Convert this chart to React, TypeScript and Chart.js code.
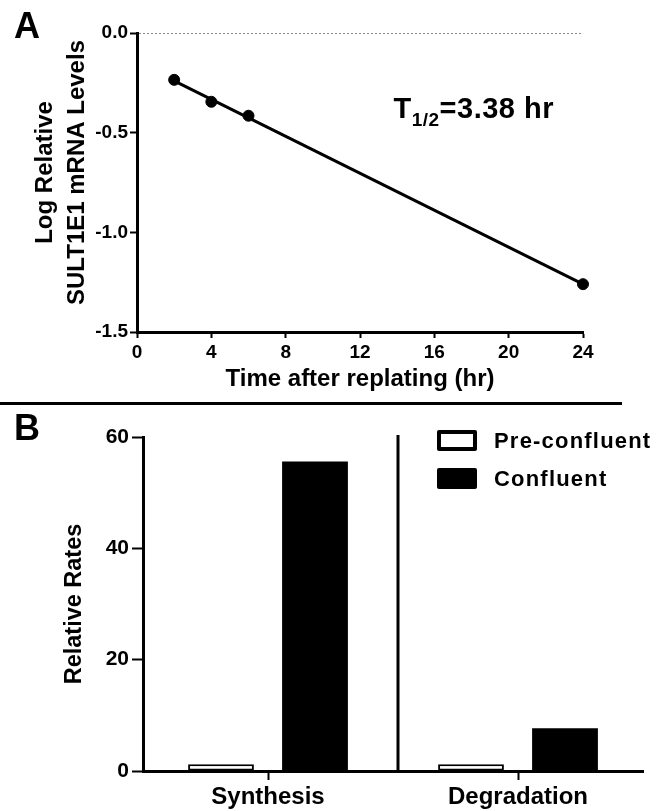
import React, { useEffect, useRef } from "react";
import { Chart, registerables } from "chart.js";
Chart.register(...registerables);

const FONT = "'Liberation Sans', Arial, Helvetica, sans-serif";

// ---------- Panel A data ----------
const timeHours = [2, 4, 6, 24];
const logRelativeLevels = [-0.235, -0.345, -0.415, -1.26];
const fitHours = [2, 24];
const fitLevels = [-0.24, -1.26];
const timeTicks = [0, 4, 8, 12, 16, 20, 24];
const levelTicks = [-1.5, -1.0, -0.5, 0.0];
const halfLifeMain = "T";
const halfLifeSub = "1/2";
const halfLifeRest = "=3.38 hr";
const halfLifePos = [13.8, -0.425];

// ---------- Panel B data ----------
const rateCategories = ["Synthesis", "Degradation"];
const preConfluentRates = [1.2, 1.2];
const confluentRates = [55.6, 7.7];
const rateTicks = [0, 20, 40, 60];

const halfLifePlugin = {
  id: "halfLife",
  afterDatasetsDraw(chart: any) {
    const { ctx, scales } = chart;
    const x = scales.x.getPixelForValue(halfLifePos[0]);
    const y = scales.y.getPixelForValue(halfLifePos[1]);
    ctx.save();
    ctx.fillStyle = "#000";
    ctx.textBaseline = "alphabetic";
    ctx.textAlign = "left";
    (ctx as any).letterSpacing = "0.5px";
    ctx.font = `bold 29px ${FONT}`;
    ctx.fillText(halfLifeMain, x, y);
    let cx = x + ctx.measureText(halfLifeMain).width;
    ctx.font = `bold 19px ${FONT}`;
    ctx.fillText(halfLifeSub, cx, y + 8);
    cx += ctx.measureText(halfLifeSub).width;
    ctx.font = `bold 29px ${FONT}`;
    ctx.fillText(halfLifeRest, cx, y);
    ctx.restore();
  },
};

const dividerPlugin = {
  id: "divider",
  afterDatasetsDraw(chart: any) {
    const { ctx, scales, chartArea } = chart;
    const xs = scales.x;
    const x = (xs.getPixelForValue(0) + xs.getPixelForValue(1)) / 2 + 5;
    ctx.save();
    ctx.strokeStyle = "#000";
    ctx.lineWidth = 3;
    ctx.beginPath();
    ctx.moveTo(x, chartArea.top - 2);
    ctx.lineTo(x, chartArea.bottom);
    ctx.stroke();
    ctx.restore();
  },
};

const legendPlugin = {
  id: "customLegend",
  afterDraw(chart: any) {
    const { ctx, chartArea } = chart;
    const ds = chart.data.datasets;
    const left = chartArea.left + 294;
    const top0 = chartArea.top - 7;
    ctx.save();
    ds.forEach((d: any, i: number) => {
      const top = top0 + i * 38;
      const w = 40;
      const h = 21;
      ctx.fillStyle = d.borderColor;
      ctx.beginPath();
      (ctx as any).roundRect(left, top, w, h, 2);
      ctx.fill();
      if (d.borderWidth > 0) {
        ctx.fillStyle = d.backgroundColor;
        ctx.fillRect(left + 4, top + 4, w - 8, h - 8);
      }
      ctx.fillStyle = "#000";
      ctx.font = `bold 22px ${FONT}`;
      (ctx as any).letterSpacing = "1.2px";
      ctx.textBaseline = "middle";
      ctx.textAlign = "left";
      ctx.fillText(d.label, left + 57, top + h / 2 + 1);
    });
    ctx.restore();
  },
};

function PanelA() {
  const ref = useRef<HTMLCanvasElement>(null);
  useEffect(() => {
    const chart = new Chart(ref.current as HTMLCanvasElement, {
      type: "scatter",
      data: {
        datasets: [
          {
            label: "Measured",
            data: timeHours.map((x, i) => ({ x, y: logRelativeLevels[i] })),
            backgroundColor: "#000",
            borderColor: "#000",
            pointRadius: 5.5,
            pointHoverRadius: 5.5,
            showLine: false,
            clip: false,
          },
          {
            label: "Fit",
            data: fitHours.map((x, i) => ({ x, y: fitLevels[i] })),
            showLine: true,
            borderColor: "#000",
            borderWidth: 3,
            pointRadius: 0,
            pointHoverRadius: 0,
            clip: false,
          },
        ],
      } as any,
      options: {
        responsive: false,
        animation: false,
        events: [],
        layout: { padding: { top: 33, right: 73, left: 0, bottom: 6 } },
        plugins: { legend: { display: false }, tooltip: { enabled: false } },
        scales: {
          x: {
            type: "linear",
            min: timeTicks[0],
            max: timeTicks[timeTicks.length - 1],
            afterBuildTicks: (s: any) => {
              s.ticks = timeTicks.map((v) => ({ value: v }));
            },
            afterFit: (s: any) => {
              s.height = 62;
            },
            border: { display: true, color: "#000", width: 3 },
            grid: { drawOnChartArea: false, tickLength: 6, tickWidth: 2, tickColor: "#000", color: "#000" },
            ticks: { color: "#000", font: { family: FONT, size: 19, weight: "bold" }, padding: 3, autoSkip: false, maxRotation: 0 },
            title: {
              display: true,
              text: "Time after replating (hr)",
              color: "#000",
              font: { family: FONT, size: 24, weight: "bold", lineHeight: 1.2 },
              padding: { top: 0, bottom: 0 },
            },
          },
          y: {
            type: "linear",
            min: levelTicks[0],
            max: levelTicks[levelTicks.length - 1],
            afterBuildTicks: (s: any) => {
              s.ticks = levelTicks.map((v) => ({ value: v }));
            },
            afterFit: (s: any) => {
              s.width = 137;
            },
            border: { display: true, color: "#000", width: 3, dash: [2, 2] },
            grid: {
              drawOnChartArea: true,
              tickLength: 7,
              tickWidth: 2,
              tickColor: "#000",
              tickBorderDash: [],
              lineWidth: 1,
              color: (c: any) => (c.tick && c.tick.value === 0 ? "#888" : "rgba(0,0,0,0)"),
            },
            ticks: {
              color: "#000",
              font: { family: FONT, size: 19, weight: "bold" },
              padding: 2,
              callback: (v: any) => Number(v).toFixed(1),
            },
            title: {
              display: true,
              text: ["   Log Relative", "   SULT1E1 mRNA Levels"],
              color: "#000",
              font: { family: FONT, size: 24, weight: "bold", lineHeight: 1.333 },
              padding: { top: 29, bottom: 0 },
            },
          },
        },
      } as any,
      plugins: [halfLifePlugin],
    });
    return () => chart.destroy();
  }, []);
  return <canvas ref={ref} width={656} height={400} style={{ display: "block", position: "absolute", left: 0, top: 0 }} />;
}

function PanelB() {
  const ref = useRef<HTMLCanvasElement>(null);
  useEffect(() => {
    const chart = new Chart(ref.current as HTMLCanvasElement, {
      type: "bar",
      data: {
        labels: rateCategories,
        datasets: [
          {
            label: "Pre-confluent",
            data: preConfluentRates,
            backgroundColor: "#fff",
            borderColor: "#000",
            borderWidth: 2,
            borderSkipped: false,
            categoryPercentage: 0.752,
            barPercentage: 0.7,
          },
          {
            label: "Confluent",
            data: confluentRates,
            backgroundColor: "#000",
            borderColor: "#000",
            borderWidth: 0,
            categoryPercentage: 0.752,
            barPercentage: 0.7,
          },
        ],
      } as any,
      options: {
        responsive: false,
        animation: false,
        events: [],
        layout: { padding: { top: 32, right: 13, left: 0, bottom: 0 } },
        plugins: { legend: { display: false }, tooltip: { enabled: false } },
        scales: {
          x: {
            afterFit: (s: any) => {
              s.height = 40;
            },
            border: { display: true, color: "#000", width: 3 },
            grid: { offset: false, drawOnChartArea: false, tickLength: 9, tickWidth: 2, tickColor: "#000", color: "#000" },
            ticks: { color: "#000", font: { family: FONT, size: 24, weight: "bold" }, padding: 3, maxRotation: 0 },
          },
          y: {
            type: "linear",
            min: rateTicks[0],
            max: rateTicks[rateTicks.length - 1],
            afterBuildTicks: (s: any) => {
              s.ticks = rateTicks.map((v) => ({ value: v }));
            },
            afterFit: (s: any) => {
              s.width = 143;
            },
            border: { display: true, color: "#000", width: 3 },
            grid: { drawOnChartArea: false, tickLength: 11, tickWidth: 2, tickColor: "#000", color: "#000" },
            ticks: { color: "#000", font: { family: FONT, size: 21, weight: "bold" }, padding: 3 },
            title: {
              display: true,
              text: "Relative Rates",
              color: "#000",
              font: { family: FONT, size: 23.5, weight: "bold", lineHeight: 1.2 },
              padding: { top: 60, bottom: 0 },
            },
          },
        },
      } as any,
      plugins: [dividerPlugin, legendPlugin],
    });
    return () => chart.destroy();
  }, []);
  return <canvas ref={ref} width={656} height={406} style={{ display: "block", position: "absolute", left: 0, top: 405 }} />;
}

export default function App() {
  const labelStyle: React.CSSProperties = {
    position: "absolute",
    fontFamily: FONT,
    fontWeight: "bold",
    fontSize: 36,
    lineHeight: "36px",
    color: "#000",
  };
  return (
    <div style={{ position: "fixed", left: 0, top: 0, width: 656, height: 811, background: "#fff", overflow: "hidden" }}>
      <PanelA />
      <PanelB />
      <div style={{ position: "absolute", left: 0, top: 402, width: 622, height: 3, background: "#000" }} />
      <div style={{ ...labelStyle, left: 14, top: 8 }}>A</div>
      <div style={{ ...labelStyle, left: 14, top: 410 }}>B</div>
    </div>
  );
}
